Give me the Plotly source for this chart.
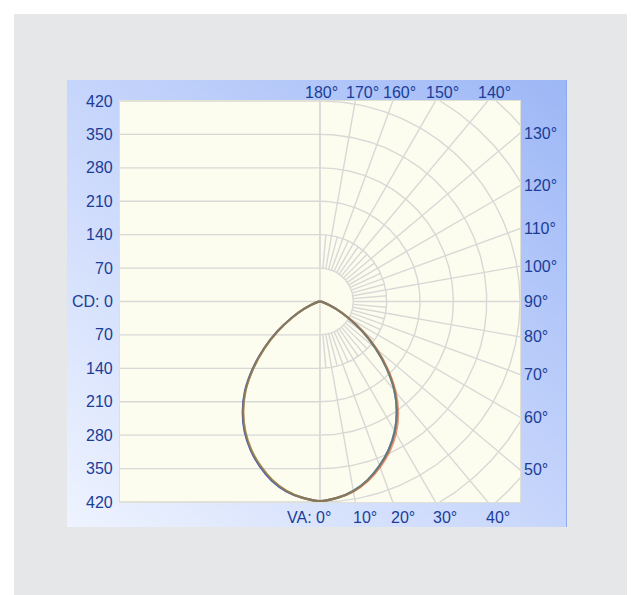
import numpy as np
import plotly.graph_objects as go

# ---------------- data ----------------
angles = [0, 5, 10, 15, 20, 25, 30, 35, 40, 45, 50, 55, 60, 65, 70, 75, 80, 85, 90]

# blue series: C0 (right half) / C180 (left half)
cd_c0 = [418, 413, 403, 387, 366, 342, 314, 281, 243, 198, 152, 108, 68, 38, 18, 7, 2, 0, 0]
cd_c180 = [418, 413, 404, 389, 368, 344, 316, 283, 245, 200, 154, 109, 69, 38, 18, 7, 2, 0, 0]
# green series: C90 / C270
cd_c90 = [418, 413, 403, 387, 366, 342, 314, 281, 243, 198, 152, 108, 68, 38, 18, 7, 2, 0, 0]
cd_c270 = [418, 413, 403, 387, 366, 342, 314, 281, 243, 198, 152, 108, 68, 38, 18, 7, 2, 0, 0]
# red series: C45 / C225
cd_c45 = [418, 413, 404, 389, 369, 346, 319, 286, 247, 202, 156, 111, 70, 39, 18, 7, 2, 0, 0]
cd_c225 = [418, 413, 403, 387, 366, 342, 314, 281, 243, 198, 152, 108, 68, 38, 18, 7, 2, 0, 0]

cd_levels = [70, 140, 210, 280, 350, 420]
ring_radii = [70, 140, 210, 280, 350, 420, 490, 560]
ray_angles = [0, 10, 20, 30, 40, 50, 60, 70, 80, 90, 100, 110, 120, 130, 140, 150, 160, 170, 180]
inner_ray_angles = [5, 15, 25, 35, 45, 55, 65, 75, 85, 95, 105, 115, 125, 135, 145, 155, 165, 175]

left_tick_labels = ["420", "350", "280", "210", "140", "70", "CD: 0", "70", "140", "210", "280", "350", "420"]
left_tick_values = [420, 350, 280, 210, 140, 70, 0, -70, -140, -210, -280, -350, -420]
top_angle_labels = [180, 170, 160, 150, 140]
right_angle_labels = [130, 120, 110, 100, 90, 80, 70, 60, 50]
bottom_angle_labels = [0, 10, 20, 30, 40]

RMAX = 420
TEXT_COLOR = "#1b3d97"
FONT = "Liberation Sans"
GRID_COLOR = "#d8d8d6"

fig = go.Figure()

# ---------------- blue gradient panel (background subplot) ----------------
panel_z = [[0.0, 0.5], [0.5, 1.0]]
fig.add_trace(go.Heatmap(
    z=panel_z, x=[0, 1], y=[0, 1], zsmooth="best", showscale=False,
    colorscale=[[0, "#eef3fe"], [0.5, "#c6d5fb"], [1, "#9db7f6"]],
    zmin=0, zmax=1, hoverinfo="skip", xaxis="x", yaxis="y"))

# ---------------- cream plot area ----------------
fig.add_trace(go.Heatmap(
    z=[[0, 0], [0, 0]], x=[-RMAX, RMAX], y=[-RMAX, RMAX], showscale=False,
    colorscale=[[0, "#fdfdef"], [1, "#fdfdef"]], zmin=0, zmax=1,
    hoverinfo="skip", xaxis="x2", yaxis="y2"))

# ---------------- grid ----------------
gx, gy = [], []
for v in [0] + cd_levels + [-c for c in cd_levels]:
    gx += [-RMAX, 0, None]
    gy += [v, v, None]
gx += [0, 0, None]
gy += [-RMAX, RMAX, None]
t = np.radians(np.linspace(0, 180, 181))
for r in ring_radii:
    gx += list(r * np.sin(t)) + [None]
    gy += list(-r * np.cos(t)) + [None]
for a in ray_angles:
    ar = np.radians(a)
    gx += [ring_radii[0] * np.sin(ar), 620 * np.sin(ar), None]
    gy += [-ring_radii[0] * np.cos(ar), -620 * np.cos(ar), None]
for a in inner_ray_angles:
    ar = np.radians(a)
    gx += [ring_radii[0] * np.sin(ar), ring_radii[1] * np.sin(ar), None]
    gy += [-ring_radii[0] * np.cos(ar), -ring_radii[1] * np.cos(ar), None]

fig.add_trace(go.Scatter(x=gx, y=gy, mode="lines", line=dict(color=GRID_COLOR, width=1.4),
                         hoverinfo="skip", showlegend=False, xaxis="x2", yaxis="y2"))


# ---------------- candela curves ----------------
def curve(right, left):
    th = np.radians(angles)
    r = np.array(right, dtype=float)
    l = np.array(left, dtype=float)
    xl = -l * np.sin(th)
    yl = -l * np.cos(th)
    xr = r * np.sin(th)
    yr = -r * np.cos(th)
    x = np.concatenate([xl[::-1], xr[1:]])
    y = np.concatenate([yl[::-1], yr[1:]])
    return x, y


series = [
    ("C0-C180", cd_c0, cd_c180, "#3a5ad0", 1.0),
    ("C45-C225", cd_c45, cd_c225, "#e05030", 0.6),
    ("C90-C270", cd_c90, cd_c270, "#70a040", 0.5),
]
for name, right, left, color, op in series:
    x, y = curve(right, left)
    fig.add_trace(go.Scatter(x=x, y=y, mode="lines", name=name, opacity=op,
                             line=dict(color=color, width=2.2, shape="spline", smoothing=0.8),
                             showlegend=False, xaxis="x2", yaxis="y2"))

# ---------------- labels ----------------
ann = []
fnt = dict(family=FONT, size=16, color=TEXT_COLOR)
for txt, v in zip(left_tick_labels, left_tick_values):
    ann.append(dict(x=-RMAX, y=v, xref="x2", yref="y2", text=txt, showarrow=False,
                    xanchor="right", yanchor="middle", xshift=-5, font=fnt))
for a in top_angle_labels:
    hx = RMAX * np.tan(np.radians(180 - a))
    ann.append(dict(x=hx, y=RMAX, xref="x2", yref="y2", text=f"{a}°", showarrow=False,
                    xanchor="center", yanchor="bottom", xshift=(1 if a == 180 else 7), yshift=-2,
                    font=fnt))
for a in right_angle_labels:
    hy = RMAX * np.tan(np.radians(a - 90))
    ann.append(dict(x=RMAX, y=hy, xref="x2", yref="y2", text=f"{a}°", showarrow=False,
                    xanchor="left", yanchor="middle", xshift=2, font=fnt))
for a in bottom_angle_labels:
    hx = RMAX * np.tan(np.radians(a))
    if a == 0:
        ann.append(dict(x=0, y=-RMAX, xref="x2", yref="y2", text="VA: 0°", showarrow=False,
                        xanchor="right", yanchor="top", xshift=13, yshift=-5, font=fnt))
    else:
        ann.append(dict(x=hx, y=-RMAX, xref="x2", yref="y2", text=f"{a}°", showarrow=False,
                        xanchor="left", yanchor="top", xshift=-4, yshift=-5, font=fnt))

# page body has an 8px margin: the figure is drawn from (8, 8) in the window
OFF = 8
WIN_W, WIN_H = 635, 595
W, H = WIN_W - OFF, WIN_H - OFF
L, T = 14 - OFF, 14 - OFF
PW, PH = W - L, H - T


def dx(px):
    return (px - OFF - L) / PW


def dy(py):
    return (H + OFF - py) / PH


fig.update_layout(
    width=W, height=H,
    margin=dict(l=L, r=0, t=T, b=0, pad=0),
    paper_bgcolor="white", plot_bgcolor="rgba(0,0,0,0)",
    showlegend=False,
    annotations=ann,
    shapes=[dict(type="rect", xref="paper", yref="paper", x0=0, x1=1, y0=0, y1=1,
                 fillcolor="#e6e7e8", line=dict(width=0), layer="below")],
    xaxis=dict(domain=[dx(67), dx(566)], range=[0, 1], visible=False, fixedrange=True),
    yaxis=dict(domain=[dy(527), dy(80)], range=[0, 1], showgrid=False, zeroline=False,
               showticklabels=False, ticks="", side="right", showline=True,
               linecolor="#8eabf1", linewidth=1, fixedrange=True),
    xaxis2=dict(domain=[dx(120), dx(520)], range=[-RMAX, RMAX], anchor="y2",
                showgrid=False, zeroline=False, showticklabels=False, ticks="",
                showline=True, mirror=True, linecolor="#e0e0d4", linewidth=1),
    yaxis2=dict(domain=[dy(502), dy(101)], range=[-RMAX, RMAX], anchor="x2",
                showgrid=False, zeroline=False, showticklabels=False, ticks="",
                showline=True, mirror=True, linecolor="#e0e0d4", linewidth=1),
)

fig.write_html("out.html")
